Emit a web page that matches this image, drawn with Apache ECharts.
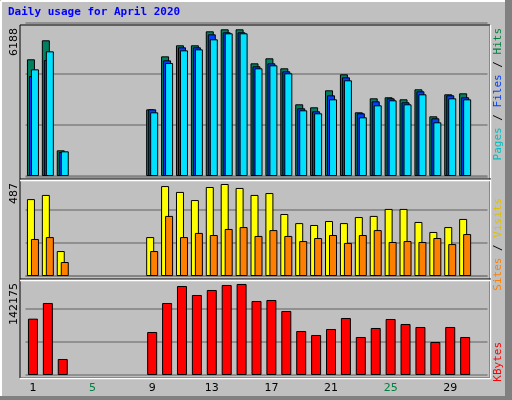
<!DOCTYPE html>
<html><head><meta charset="utf-8">
<script src="https://cdn.jsdelivr.net/npm/echarts@6/dist/echarts.min.js"></script>
<style>html,body{margin:0;padding:0;background:#C0C0C0}#c{width:512px;height:400px}</style>
</head><body><div id="c"></div>
<script>
const days = ['1','2','3','4','5','6','7','8','9','10','11','12','13','14','15','16','17','18','19','20','21','22','23','24','25','26','27','28','29','30','31'];
const weekendDays = ['4','5','11','12','18','19','25','26'];
const hits  = [4923,5724,1083,null,null,null,null,null,2812,5048,5513,5513,6103,6188,6188,4753,4965,4543,3024,2898,3615,4290,2687,3277,3320,3235,3657,2518,3446,3488,null];
const files = [4218,4893,1012,null,null,null,null,null,2812,4879,5428,5428,5976,6061,6061,4627,4753,4416,2856,2729,3404,4163,2645,3151,3277,3109,3573,2434,3404,3320,null];
const pages = [4500,5259,1041,null,null,null,null,null,2686,4766,5301,5344,5766,6019,6019,4543,4669,4332,2771,2645,3235,4037,2476,2982,3193,3024,3446,2265,3277,3235,null];
const visits = [407,429,132,null,null,null,null,null,206,476,445,402,471,487,466,429,439,328,280,270,291,280,312,318,355,355,286,233,259,302,null];
const sites  = [196,206,74,null,null,null,null,null,132,318,206,228,217,249,259,212,243,212,185,201,217,175,217,243,180,185,180,201,169,222,null];
const kbytes = [88015,112493,25000,null,null,null,null,null,67183,112493,139054,124992,132804,140616,142175,115618,117180,99994,68746,62496,71870,89057,59371,73433,87494,79682,74995,51559,74995,59371,null];
const maxLabels = ['6188','487','142175'];

const chart = echarts.init(document.getElementById('c'));
const grids = [
  {left:25.5,right:24.5,top:23,height:153},
  {left:25.5,right:24.5,top:177,height:99},
  {left:25.5,right:24.5,top:276,height:99}
];
const axMax = [6454, 524, 154673];
const xAxis = grids.map((g,i)=>({type:'category',gridIndex:i,data:days,boundaryGap:true,
  axisLine:{show:false},axisTick:{show:false},
  axisLabel:i===2?{show:true,margin:8,fontFamily:'DejaVu Sans',fontSize:11,
    formatter:v=>weekendDays.includes(v)?'{w|'+v+'}':'{n|'+v+'}',
    rich:{w:{color:'#008040',fontFamily:'DejaVu Sans',fontSize:11},n:{color:'#000',fontFamily:'DejaVu Sans',fontSize:11}}}:{show:false}}));
const yAxis = grids.map((g,i)=>({type:'value',gridIndex:i,min:0,max:axMax[i],interval:axMax[i]/3,
  axisLabel:{show:false},axisLine:{show:false},axisTick:{show:false},
  splitLine:{show:true,lineStyle:{color:'#808080',width:1.5}}}));
const bs = {borderColor:'#000',borderWidth:1};
const series = [
  {type:'bar',xAxisIndex:0,yAxisIndex:0,data:hits,barWidth:8,barGap:'-75%',itemStyle:{color:'#008060',...bs}},
  {type:'bar',xAxisIndex:0,yAxisIndex:0,data:files,barWidth:8,barGap:'-75%',itemStyle:{color:'#0040FF',...bs}},
  {type:'bar',xAxisIndex:0,yAxisIndex:0,data:pages,barWidth:8,barGap:'-75%',itemStyle:{color:'#00E0FF',...bs}},
  {type:'bar',xAxisIndex:1,yAxisIndex:1,data:visits,barWidth:8,barGap:'-50%',itemStyle:{color:'#FFFF00',...bs}},
  {type:'bar',xAxisIndex:1,yAxisIndex:1,data:sites,barWidth:8,barGap:'-50%',itemStyle:{color:'#FF8000',...bs}},
  {type:'bar',xAxisIndex:2,yAxisIndex:2,data:kbytes,barWidth:10,itemStyle:{color:'#FF0000',...bs}}
];
const mono = 'DejaVu Sans Mono';
const graphic = [
  {type:'rect',shape:{x:505,y:0,width:7,height:400},style:{fill:'#808080'},z:-10},
  {type:'rect',shape:{x:0,y:396,width:512,height:4},style:{fill:'#808080'},z:-10},
  {type:'line',shape:{x1:1,y1:1,x2:505,y2:1},style:{stroke:'#fff',lineWidth:2},z:-9},
  {type:'line',shape:{x1:1,y1:1,x2:1,y2:396},style:{stroke:'#fff',lineWidth:2},z:-9},
  {type:'rect',shape:{x:20,y:25,width:470,height:353},style:{fill:'none',stroke:'#000',lineWidth:1},z:-5},
  {type:'line',shape:{x1:490.5,y1:25,x2:490.5,y2:379},style:{stroke:'#fff',lineWidth:1.5}},
  {type:'line',shape:{x1:20,y1:378.5,x2:491,y2:378.5},style:{stroke:'#fff',lineWidth:1.5}},
  {type:'line',shape:{x1:20,y1:179,x2:491,y2:179},style:{stroke:'#000',lineWidth:1}},
  {type:'line',shape:{x1:20,y1:180.5,x2:491,y2:180.5},style:{stroke:'#fff',lineWidth:1.5}},
  {type:'line',shape:{x1:20,y1:279,x2:491,y2:279},style:{stroke:'#000',lineWidth:1}},
  {type:'line',shape:{x1:20,y1:280.5,x2:491,y2:280.5},style:{stroke:'#fff',lineWidth:1.5}},
  {type:'text',left:8,top:7,style:{text:'Daily usage for April 2020',fill:'#0000FF',font:'bold 11px "'+mono+'"'}},
  {type:'text',x:9,y:28,rotation:Math.PI/2,style:{text:maxLabels[0],fill:'#000',font:'11px "DejaVu Sans"',align:'right',verticalAlign:'top'}},
  {type:'text',x:9,y:183,rotation:Math.PI/2,style:{text:maxLabels[1],fill:'#000',font:'11px "DejaVu Sans"',align:'right',verticalAlign:'top'}},
  {type:'text',x:9,y:283,rotation:Math.PI/2,style:{text:maxLabels[2],fill:'#000',font:'11px "DejaVu Sans"',align:'right',verticalAlign:'top'}},
  {type:'text',x:493,y:28,rotation:Math.PI/2,style:{text:'{p|Pages}{s| / }{f|Files}{s| / }{h|Hits}',align:'right',verticalAlign:'top',
    rich:{p:{fill:'#00C0C0',font:'11px "'+mono+'"'},s:{fill:'#000',font:'11px "'+mono+'"'},f:{fill:'#0040FF',font:'11px "'+mono+'"'},h:{fill:'#008040',font:'11px "'+mono+'"'}}}},
  {type:'text',x:493,y:198,rotation:Math.PI/2,style:{text:'{a|Sites}{s| / }{b|Visits}',align:'right',verticalAlign:'top',
    rich:{a:{fill:'#FF8000',font:'11px "'+mono+'"'},s:{fill:'#000',font:'11px "'+mono+'"'},b:{fill:'#E0C000',font:'11px "'+mono+'"'}}}},
  {type:'text',x:493,y:342,rotation:Math.PI/2,style:{text:'KBytes',fill:'#FF0000',font:'11px "'+mono+'"',align:'right',verticalAlign:'top'}}
];
chart.setOption({backgroundColor:'#C0C0C0',animation:false,grid:grids,xAxis,yAxis,series,graphic});
</script></body></html>
